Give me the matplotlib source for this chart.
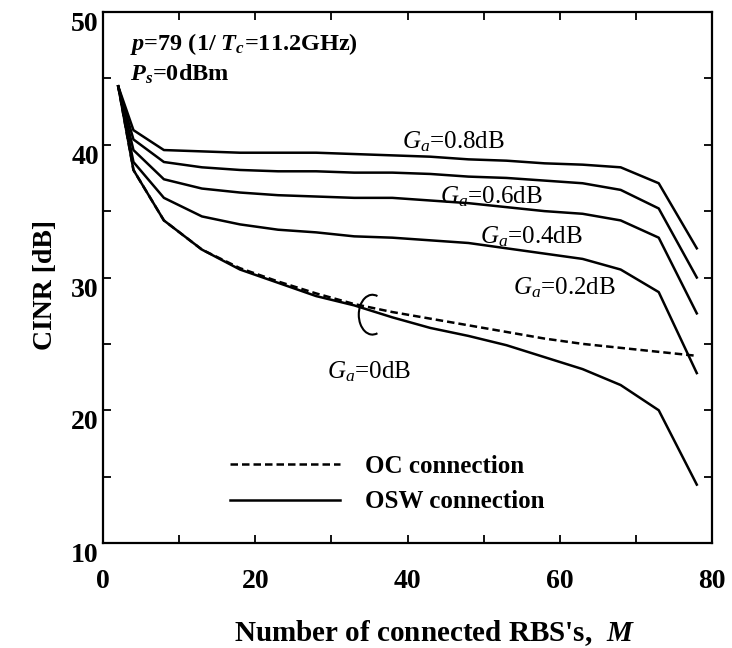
import matplotlib
matplotlib.use("Agg")
import matplotlib.pyplot as plt
import matplotlib.transforms as mtransforms
from matplotlib.patches import Arc

plt.rcParams['font.family'] = ['Liberation Serif', 'DejaVu Serif']
plt.rcParams['mathtext.fontset'] = 'custom'
plt.rcParams['mathtext.rm'] = 'Liberation Serif'
plt.rcParams['mathtext.it'] = 'Liberation Serif:italic'
plt.rcParams['mathtext.bf'] = 'Liberation Serif:bold'
plt.rcParams['mathtext.bfit'] = 'Liberation Serif:italic:bold'

# number of connected RBS's
M = [2, 4, 8, 13, 18, 23, 28, 33, 38, 43, 48, 53, 58, 63, 68, 73, 78]

# OSW connection, one curve per optical amplifier gain Ga
osw_08 = [44.4, 41.1, 39.6, 39.5, 39.4, 39.4, 39.4, 39.3, 39.2, 39.1, 38.9, 38.8, 38.6, 38.5, 38.3, 37.1, 32.2]
osw_06 = [44.4, 40.4, 38.7, 38.3, 38.1, 38.0, 38.0, 37.9, 37.9, 37.8, 37.6, 37.5, 37.3, 37.1, 36.6, 35.2, 30.0]
osw_04 = [44.4, 39.6, 37.4, 36.7, 36.4, 36.2, 36.1, 36.0, 36.0, 35.8, 35.6, 35.3, 35.0, 34.8, 34.3, 33.0, 27.3]
osw_02 = [44.4, 38.7, 36.0, 34.6, 34.0, 33.6, 33.4, 33.1, 33.0, 32.8, 32.6, 32.2, 31.8, 31.4, 30.6, 28.9, 22.8]
osw_00 = [44.4, 38.1, 34.3, 32.1, 30.6, 29.6, 28.6, 27.9, 27.0, 26.2, 25.6, 24.9, 24.0, 23.1, 21.9, 20.0, 14.4]

# OC connection, Ga = 0dB
oc_00 = [44.4, 38.1, 34.3, 32.1, 30.7, 29.7, 28.8, 28.0, 27.4, 26.9, 26.4, 25.9, 25.4, 25.0, 24.7, 24.4, 24.1]

curve_labels = [r'$G_a$=0.8dB', r'$G_a$=0.6dB', r'$G_a$=0.4dB', r'$G_a$=0.2dB', r'$G_a$=0dB']
label_pos = [(39.3, 39.75), (44.3, 35.6), (49.5, 32.6), (53.9, 28.7), (29.4, 22.4)]

fig = plt.figure(figsize=(7.32, 6.48), dpi=100)
ax = fig.add_axes([0.1407, 0.162, 0.832, 0.8195])

lw = 1.8
dash = (0, (3.0, 1.6))
ax.plot(M, oc_00, color='black', lw=lw, ls=dash, label='OC connection')
ax.plot(M, osw_00, color='black', lw=lw, label='OSW connection')
for ys in [osw_02, osw_04, osw_06, osw_08]:
    ax.plot(M, ys, color='black', lw=lw)

for txt, (x, y) in zip(curve_labels, label_pos):
    ax.text(x, y, txt, fontsize=18, ha='left', va='baseline')

# bracket grouping the two Ga=0dB curves
ax.add_patch(Arc((35.4, 27.2), 3.6, 3.0, theta1=65, theta2=295, color='black', lw=1.5))

ax.text(3.5, 47.1, r'$\mathbfit{p}$=79 (1/ $\mathbfit{T}_{\mathbfit{c}}$=11.2GHz)',
        fontsize=17.5, fontweight='bold', ha='left', va='baseline')
ax.text(3.5, 44.8, r'$\mathbfit{P}_{\mathbfit{s}}$=0dBm',
        fontsize=17.5, fontweight='bold', ha='left', va='baseline')

ax.set_xlim(0, 80)
ax.set_ylim(10, 50)
ax.set_xticks([0, 20, 40, 60, 80])
ax.set_xticks([10, 30, 50, 70], minor=True)
ax.set_yticks([10, 20, 30, 40, 50])
ax.set_yticks([15, 25, 35, 45], minor=True)
ax.tick_params(which='both', direction='in', top=True, right=True, length=6, width=1.3)
ax.tick_params(axis='x', which='major', pad=19, labelsize=20)
ax.tick_params(axis='y', which='major', pad=3, labelsize=20)
for lab in ax.get_xticklabels() + ax.get_yticklabels():
    lab.set_fontweight('bold')
shift = mtransforms.ScaledTranslation(0, -7 / 72, fig.dpi_scale_trans)
for lab in ax.get_yticklabels():
    lab.set_transform(lab.get_transform() + shift)
for sp in ax.spines.values():
    sp.set_linewidth(1.6)

ax.set_xlabel(r"Number of connected RBS's,  $\mathbfit{M}$", fontsize=21, fontweight='bold')
ax.xaxis.set_label_coords(0.545, -0.169)
ax.xaxis.label.set_va('center')
ax.set_ylabel('CINR [dB]', fontsize=20, fontweight='bold')
ax.yaxis.set_label_coords(-0.095, 0.486)
ax.yaxis.label.set_va('center')

ax.legend(loc='upper left', bbox_to_anchor=(0.2085, 0.166), frameon=False,
          borderpad=0, borderaxespad=0, handlelength=4.4, handletextpad=1.0,
          labelspacing=0.5, prop={'size': 18, 'weight': 'bold'})

fig.savefig('out.png', dpi=100)
